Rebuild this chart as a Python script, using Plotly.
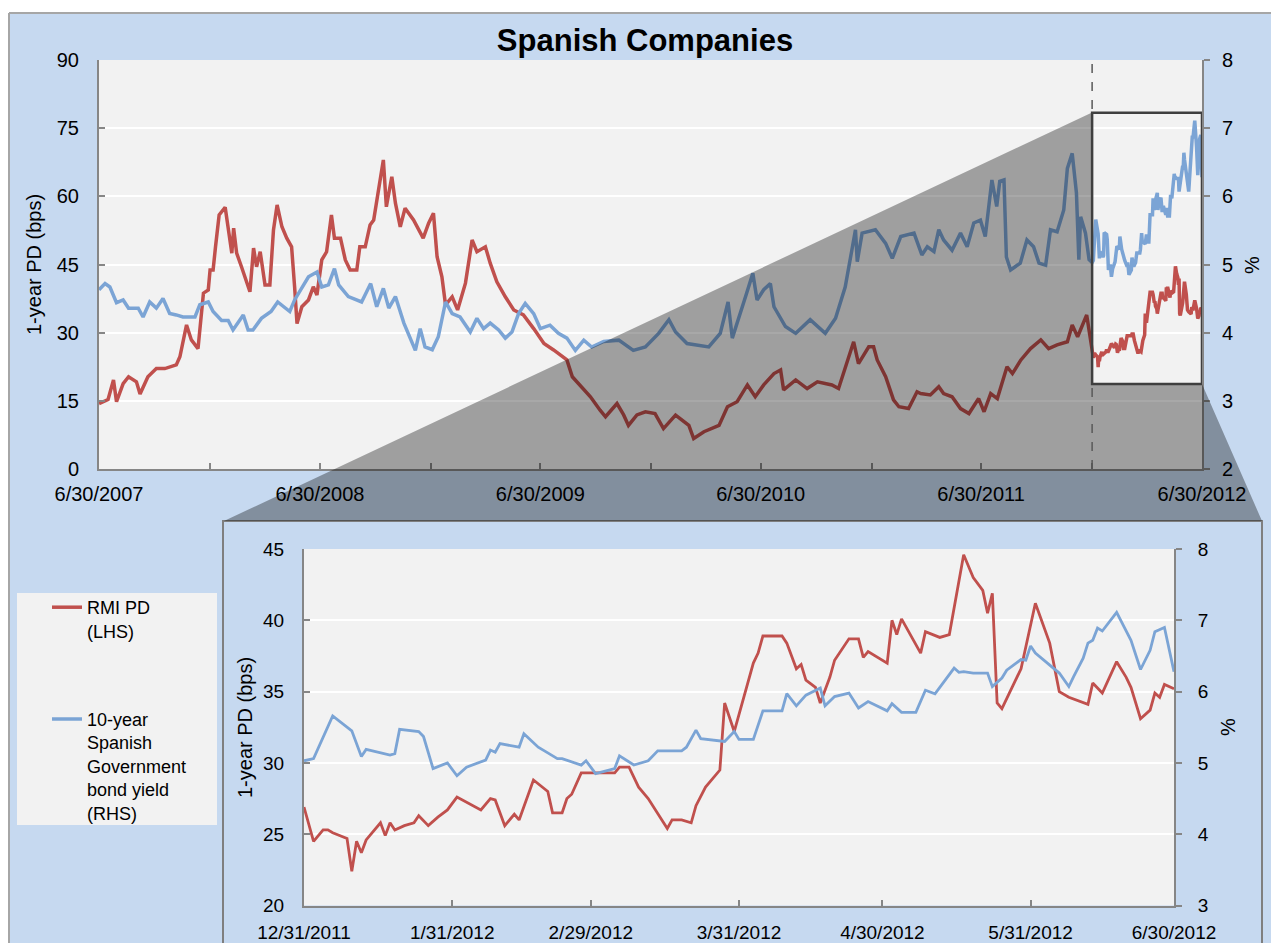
import plotly.graph_objects as go

W, H = 1271, 943
FONT = "Liberation Sans, Arial, sans-serif"
RED = "#C0504D"
BLUE = "#7BA4D5"
AXIS = "#868686"
PAPER = "#C6D9F0"
PLOT = "#F2F2F2"

# ---------------- data: full period (6/30/2007 - 12/2011) ----------------
pd_dates_main = [
    "2007-06-30", "2007-07-15", "2007-07-24", "2007-07-29", "2007-08-09", "2007-08-18", "2007-08-31",
    "2007-09-06", "2007-09-19", "2007-10-03", "2007-10-17", "2007-11-05", "2007-11-11", "2007-11-22",
    "2007-11-30", "2007-12-11", "2007-12-20", "2007-12-28", "2007-12-31",
    "2008-01-05", "2008-01-09", "2008-01-15", "2008-01-25", "2008-01-30", "2008-02-05", "2008-02-08",
    "2008-02-13", "2008-02-21", "2008-03-06", "2008-03-12", "2008-03-17", "2008-03-23", "2008-03-31",
    "2008-04-08", "2008-04-14", "2008-04-20", "2008-04-28", "2008-05-06", "2008-05-14", "2008-05-19",
    "2008-05-23", "2008-05-31", "2008-06-11", "2008-06-19", "2008-06-25", "2008-07-03", "2008-07-11",
    "2008-07-19", "2008-07-24", "2008-08-03", "2008-08-11", "2008-08-19", "2008-08-30", "2008-09-04",
    "2008-09-13", "2008-09-21", "2008-09-27", "2008-10-13", "2008-10-18", "2008-10-27", "2008-11-02",
    "2008-11-10", "2008-11-18", "2008-12-02", "2008-12-18", "2008-12-27",
    "2009-01-04", "2009-01-10", "2009-01-18", "2009-01-24", "2009-02-04", "2009-02-13", "2009-02-26",
    "2009-03-09", "2009-03-17", "2009-03-31", "2009-04-08", "2009-04-19", "2009-05-03", "2009-05-17",
    "2009-06-02", "2009-06-19", "2009-07-06", "2009-07-22", "2009-08-13", "2009-08-22", "2009-09-07",
    "2009-09-21", "2009-10-07", "2009-10-16", "2009-11-04", "2009-11-15", "2009-11-23", "2009-12-07",
    "2009-12-21",
    "2010-01-06", "2010-01-20", "2010-02-09", "2010-03-03", "2010-03-11", "2010-03-28", "2010-04-22",
    "2010-05-06", "2010-05-22", "2010-06-08", "2010-06-21", "2010-07-05", "2010-07-22", "2010-08-02",
    "2010-08-07", "2010-08-27", "2010-09-15", "2010-10-02", "2010-10-26", "2010-11-06", "2010-11-17",
    "2010-12-01", "2010-12-09", "2010-12-20", "2010-12-26",
    "2011-01-03", "2011-01-09", "2011-01-23", "2011-02-05", "2011-02-14", "2011-03-02", "2011-03-16",
    "2011-03-22", "2011-04-07", "2011-04-21", "2011-04-29", "2011-05-13", "2011-05-27", "2011-06-10",
    "2011-06-26", "2011-07-05", "2011-07-16", "2011-07-27", "2011-08-12", "2011-08-21", "2011-09-04",
    "2011-09-20", "2011-10-07", "2011-10-20", "2011-11-03", "2011-11-20", "2011-11-28", "2011-12-07",
    "2011-12-22",
]
pd_main = [
    14.4, 15.3, 19.6, 14.8, 18.8, 20.3, 19.2, 16.5, 20.3, 22.1, 22.1, 22.9, 24.7, 31.7, 28.4, 26.5, 38.7,
    39.4, 43.8,
    43.8, 48.9, 55.9, 57.6, 53.0, 47.5, 53.0, 47.5, 44.5, 39.0, 48.6, 44.5, 47.8, 40.5, 40.5, 52.6, 58.1,
    53.3, 50.8, 48.9, 40.1, 32.0, 35.7, 37.2, 40.1, 38.3, 46.0, 47.8, 55.9, 50.8, 50.8, 46.0, 43.8, 43.8,
    48.9, 48.9, 53.7, 54.8, 68.0, 57.7, 64.3, 58.5, 53.3, 57.4, 54.8, 50.8, 54.1,
    56.3, 46.7, 42.3, 36.1, 37.9, 35.0, 40.9, 50.4, 47.8, 48.9, 45.3, 41.2, 37.9, 35.0, 33.9, 30.9, 27.6,
    26.2, 24.0, 20.3, 18.1, 15.9, 12.95, 11.5, 14.4, 11.9, 9.6, 11.9, 12.6,
    12.2, 8.9, 11.85, 9.6, 6.7, 8.2, 9.6, 13.7, 14.8, 18.5, 15.9, 18.5, 21.0, 21.8, 17.4, 19.6, 17.7,
    19.2, 18.5, 17.7, 22.1, 28.0, 23.2, 25.4, 26.9,
    26.9, 24.0, 20.3, 15.2, 13.7, 13.3, 17.0, 16.6, 16.3, 18.1, 16.6, 15.9, 13.3, 12.2, 15.5, 12.6, 16.6,
    15.5, 22.5, 21.0, 24.0, 26.5, 28.4, 26.5, 27.3, 28.0, 31.7, 29.1, 33.9,
]

yld_dates_main = [
    "2007-06-30", "2007-07-10", "2007-07-18", "2007-07-29", "2007-08-09", "2007-08-18", "2007-09-03",
    "2007-09-11", "2007-09-22", "2007-10-03", "2007-10-14", "2007-10-25", "2007-11-05", "2007-11-16",
    "2007-12-06", "2007-12-14", "2007-12-28",
    "2008-01-05", "2008-01-19", "2008-01-30", "2008-02-07", "2008-02-24", "2008-03-03", "2008-03-11",
    "2008-03-25", "2008-04-10", "2008-04-21", "2008-05-11", "2008-05-19", "2008-06-11", "2008-06-25",
    "2008-07-03", "2008-07-14", "2008-07-24", "2008-07-31", "2008-08-16", "2008-09-07", "2008-09-22",
    "2008-10-02", "2008-10-13", "2008-10-22", "2008-11-02", "2008-11-16", "2008-11-27", "2008-12-05",
    "2008-12-13", "2008-12-21",
    "2009-01-02", "2009-01-12", "2009-01-24", "2009-02-04", "2009-02-17", "2009-03-06", "2009-03-17",
    "2009-03-28", "2009-04-08", "2009-04-22", "2009-05-03", "2009-05-14", "2009-05-25", "2009-06-05",
    "2009-06-19", "2009-06-30", "2009-07-16", "2009-07-30", "2009-08-13", "2009-08-27", "2009-09-10",
    "2009-09-23", "2009-10-13", "2009-11-07", "2009-12-01", "2009-12-21",
    "2010-01-12", "2010-01-29", "2010-02-09", "2010-02-28", "2010-04-05", "2010-04-24", "2010-05-07",
    "2010-05-14", "2010-06-05", "2010-06-17", "2010-06-24", "2010-07-05", "2010-07-16", "2010-07-22",
    "2010-08-10", "2010-08-27", "2010-09-20", "2010-10-15", "2010-11-01", "2010-11-17", "2010-11-28",
    "2010-12-04", "2010-12-07", "2010-12-15",
    "2011-01-06", "2011-01-23", "2011-02-03", "2011-02-17", "2011-03-11", "2011-03-24", "2011-04-02",
    "2011-04-13", "2011-04-21", "2011-04-29", "2011-05-13", "2011-05-27", "2011-06-07", "2011-06-18",
    "2011-06-29", "2011-07-07", "2011-07-18", "2011-07-26", "2011-07-31", "2011-08-07", "2011-08-11",
    "2011-08-18", "2011-09-03", "2011-09-14", "2011-09-25", "2011-10-04", "2011-10-15", "2011-10-23",
    "2011-11-03", "2011-11-14", "2011-11-20", "2011-11-28", "2011-12-05", "2011-12-09", "2011-12-12",
    "2011-12-20", "2011-12-26",
]
yld_main = [
    4.63, 4.72, 4.67, 4.44, 4.48, 4.36, 4.36, 4.23, 4.45, 4.36, 4.50, 4.28, 4.26, 4.23, 4.23, 4.41, 4.45,
    4.31, 4.18, 4.18, 4.04, 4.26, 4.04, 4.04, 4.21, 4.31, 4.45, 4.31, 4.48, 4.82, 4.89, 4.67, 4.70, 4.94,
    4.70, 4.53, 4.45, 4.72, 4.38, 4.65, 4.36, 4.53, 4.14, 3.92, 3.74, 4.06, 3.79,
    3.75, 3.94, 4.45, 4.28, 4.23, 4.01, 4.21, 4.06, 4.14, 4.04, 3.92, 4.01, 4.28, 4.43, 4.28, 4.06, 4.11,
    3.99, 3.92, 3.74, 3.89, 3.79, 3.87, 3.89, 3.74, 3.79,
    3.99, 4.19, 4.01, 3.84, 3.79, 3.99, 4.45, 3.92, 4.53, 4.87, 4.48, 4.63, 4.72, 4.38, 4.09, 3.99, 4.19,
    3.99, 4.21, 4.67, 5.21, 5.51, 5.04, 5.46,
    5.51, 5.31, 5.09, 5.41, 5.46, 5.14, 5.26, 5.19, 5.51, 5.36, 5.21, 5.46, 5.26, 5.61, 5.65, 5.41, 6.24,
    5.85, 6.22, 6.24, 5.11, 4.92, 5.02, 5.36, 5.26, 5.02, 4.99, 5.51, 5.48, 5.80, 6.41, 6.63, 6.05, 5.07,
    5.70, 5.46, 5.07,
]

# ---------------- data: zoomed period (12/31/2011 - 6/30/2012) ----------------
pd_dates_zoom = [
    "2011-12-31", "2012-01-02", "2012-01-04", "2012-01-05", "2012-01-06", "2012-01-09", "2012-01-10",
    "2012-01-11", "2012-01-12", "2012-01-13", "2012-01-16", "2012-01-17", "2012-01-18", "2012-01-19",
    "2012-01-21", "2012-01-23", "2012-01-24", "2012-01-26", "2012-01-28", "2012-01-30",
    "2012-02-01", "2012-02-06", "2012-02-08", "2012-02-09", "2012-02-11", "2012-02-13", "2012-02-14",
    "2012-02-17", "2012-02-20", "2012-02-21", "2012-02-23", "2012-02-24", "2012-02-25", "2012-02-27",
    "2012-02-29",
    "2012-03-05", "2012-03-06", "2012-03-08", "2012-03-10", "2012-03-12", "2012-03-16", "2012-03-17",
    "2012-03-19", "2012-03-21", "2012-03-22", "2012-03-24", "2012-03-27", "2012-03-28", "2012-03-30",
    "2012-04-03", "2012-04-04", "2012-04-05", "2012-04-09", "2012-04-10", "2012-04-12", "2012-04-13",
    "2012-04-14", "2012-04-16", "2012-04-17", "2012-04-19", "2012-04-20", "2012-04-23", "2012-04-25",
    "2012-04-26", "2012-04-27",
    "2012-05-01", "2012-05-02", "2012-05-03", "2012-05-04", "2012-05-08", "2012-05-09", "2012-05-12",
    "2012-05-14", "2012-05-17", "2012-05-19", "2012-05-21", "2012-05-22", "2012-05-23", "2012-05-24",
    "2012-05-25", "2012-05-29",
    "2012-06-01", "2012-06-04", "2012-06-06", "2012-06-08", "2012-06-12", "2012-06-13", "2012-06-15",
    "2012-06-18", "2012-06-20", "2012-06-21", "2012-06-23", "2012-06-25", "2012-06-26", "2012-06-27",
    "2012-06-28", "2012-06-30",
]
pd_zoom = [
    26.9, 24.5, 25.3, 25.3, 25.1, 24.7, 22.4, 24.5, 23.7, 24.6, 25.8, 24.9, 25.8, 25.3, 25.6, 25.8, 26.3,
    25.6, 26.2, 26.7,
    27.6, 26.7, 27.5, 27.4, 25.6, 26.4, 26.0, 28.8, 28.0, 26.5, 26.5, 27.5, 27.8, 29.3, 29.3,
    29.3, 29.7, 29.7, 28.3, 27.5, 25.4, 26.0, 26.0, 25.8, 27.0, 28.3, 29.5, 34.2, 32.2,
    37.0, 37.7, 38.9, 38.9, 38.4, 36.6, 36.9, 35.8, 35.3, 34.2, 36.0, 37.2, 38.7, 38.7, 37.4, 37.8,
    37.0, 40.0, 39.0, 40.1, 37.7, 39.2, 38.8, 39.0, 44.6, 43.0, 42.1, 40.5, 41.9, 34.2, 33.8, 36.6,
    41.2, 38.4, 35.0, 34.6, 34.1, 35.6, 34.9, 37.1, 36.0, 35.3, 33.1, 33.7, 34.9, 34.6, 35.5, 35.2,
]

yld_dates_zoom = [
    "2011-12-31", "2012-01-02", "2012-01-06", "2012-01-10", "2012-01-12", "2012-01-13", "2012-01-18",
    "2012-01-19", "2012-01-20", "2012-01-24", "2012-01-25", "2012-01-27", "2012-01-30",
    "2012-02-01", "2012-02-03", "2012-02-07", "2012-02-08", "2012-02-09", "2012-02-10", "2012-02-14",
    "2012-02-15", "2012-02-18", "2012-02-20", "2012-02-22", "2012-02-23", "2012-02-27", "2012-02-28",
    "2012-03-01", "2012-03-05", "2012-03-06", "2012-03-09", "2012-03-12", "2012-03-14", "2012-03-19",
    "2012-03-20", "2012-03-22", "2012-03-23", "2012-03-28", "2012-03-30", "2012-03-31",
    "2012-04-03", "2012-04-05", "2012-04-09", "2012-04-10", "2012-04-12", "2012-04-14", "2012-04-17",
    "2012-04-18", "2012-04-20", "2012-04-23", "2012-04-25", "2012-04-27",
    "2012-05-01", "2012-05-02", "2012-05-04", "2012-05-07", "2012-05-09", "2012-05-11", "2012-05-15",
    "2012-05-16", "2012-05-17", "2012-05-19", "2012-05-22", "2012-05-23", "2012-05-25", "2012-05-26",
    "2012-05-29", "2012-05-30", "2012-05-31",
    "2012-06-01", "2012-06-06", "2012-06-08", "2012-06-09", "2012-06-11", "2012-06-12", "2012-06-13",
    "2012-06-14", "2012-06-15", "2012-06-18", "2012-06-21", "2012-06-23", "2012-06-25", "2012-06-26",
    "2012-06-28", "2012-06-30",
]
yld_zoom = [
    5.03, 5.06, 5.66, 5.45, 5.09, 5.19, 5.11, 5.13, 5.47, 5.44, 5.37, 4.92, 5.00,
    4.82, 4.94, 5.04, 5.18, 5.15, 5.27, 5.22, 5.41, 5.22, 5.14, 5.06, 5.06, 4.97, 5.03,
    4.85, 4.92, 5.10, 4.97, 5.03, 5.17, 5.17, 5.22, 5.46, 5.34, 5.30, 5.44, 5.33,
    5.33, 5.73, 5.73, 5.97, 5.80, 5.95, 6.05, 5.80, 5.93, 5.98, 5.77, 5.86,
    5.73, 5.83, 5.71, 5.71, 6.02, 5.97, 6.33, 6.27, 6.28, 6.26, 6.26, 6.07, 6.19, 6.30, 6.45, 6.44, 6.64,
    6.54, 6.26, 6.07, 6.21, 6.47, 6.68, 6.72, 6.89, 6.85, 7.11, 6.72, 6.31, 6.58, 6.84, 6.90, 6.28,
]

main_tickvals = ["2007-06-30", "2007-12-31", "2008-06-30", "2008-12-31", "2009-06-30", "2009-12-31",
                 "2010-06-30", "2010-12-31", "2011-06-30", "2011-12-31", "2012-06-30"]
main_ticktext = ["6/30/2007", "", "6/30/2008", "", "6/30/2009", "", "6/30/2010", "", "6/30/2011", "",
                 "6/30/2012"]
zoom_tickvals = ["2011-12-31", "2012-01-31", "2012-02-29", "2012-03-31", "2012-04-30", "2012-05-31",
                 "2012-06-30"]
zoom_ticktext = ["12/31/2011", "1/31/2012", "2/29/2012", "3/31/2012", "4/30/2012", "5/31/2012",
                 "6/30/2012"]

zoom_start, zoom_end = "2011-12-31", "2012-06-30"
box_low, box_high = 18.7, 78.4   # extent of the highlighted window on the LHS scale


def px(x):
    return x / W


def py(y):
    return 1 - y / H


fig = go.Figure()
fig.add_trace(go.Scatter(x=pd_dates_main + pd_dates_zoom, y=pd_main + pd_zoom, mode="lines",
                         name="RMI PD<br>(LHS)", legendgroup="pd",
                         line=dict(color=RED, width=3.5), xaxis="x", yaxis="y"))
fig.add_trace(go.Scatter(x=yld_dates_main + yld_dates_zoom, y=yld_main + yld_zoom, mode="lines",
                         name="10-year<br>Spanish<br>Government<br>bond yield<br>(RHS)", legendgroup="yld",
                         line=dict(color=BLUE, width=3.5), xaxis="x", yaxis="y2"))
fig.add_trace(go.Scatter(x=pd_dates_zoom, y=pd_zoom, mode="lines", showlegend=False,
                         line=dict(color=RED, width=2.8), xaxis="x2", yaxis="y3"))
fig.add_trace(go.Scatter(x=yld_dates_zoom, y=yld_zoom, mode="lines", showlegend=False,
                         line=dict(color=BLUE, width=2.8), xaxis="x2", yaxis="y4"))

common = dict(showline=True, linecolor=AXIS, linewidth=2, tickcolor=AXIS, tickwidth=1.5, ticklen=6,
              zeroline=False, fixedrange=True, automargin=False)
f20 = dict(family=FONT, size=20, color="black")
f19 = dict(family=FONT, size=19, color="black")

main_x = [px(99), px(1202)]
main_y = [py(469), py(60)]
ins_x = [px(304), px(1174)]
ins_y = [py(905.5), py(549)]

fig.update_layout(
    template="none",
    width=W, height=H, autosize=False,
    margin=dict(l=0, r=0, t=0, b=0, pad=0),
    paper_bgcolor=PAPER, plot_bgcolor=PLOT,
    font=dict(family=FONT, color="black"),
    title=dict(text="<b>Spanish Companies</b>", x=px(645), xanchor="center", y=py(40), yanchor="middle",
               font=dict(family=FONT, size=31, color="black")),
    xaxis=dict(domain=main_x, anchor="y", type="date", range=[main_tickvals[0], main_tickvals[-1]],
               tickmode="array", tickvals=main_tickvals, ticktext=main_ticktext, ticks="inside",
               showgrid=False, tickfont=f20, ticklabelstandoff=6, **common),
    yaxis=dict(domain=main_y, anchor="x", range=[0, 90], tick0=0, dtick=15, ticks="inside",
               showgrid=True, gridcolor="white", gridwidth=2, tickfont=f20, ticklabelstandoff=14, **common),
    yaxis2=dict(overlaying="y", anchor="x", side="right", range=[2, 8], tick0=2, dtick=1, ticks="outside",
                showgrid=False, tickfont=f20, ticklabelstandoff=8, **common),
    xaxis2=dict(domain=ins_x, anchor="y3", type="date", range=[zoom_start, zoom_end],
                tickmode="array", tickvals=zoom_tickvals, ticktext=zoom_ticktext, ticks="inside",
                showgrid=False, tickfont=f19, ticklabelstandoff=9, **common),
    yaxis3=dict(domain=ins_y, anchor="x2", range=[20, 45], tick0=20, dtick=5, ticks="inside",
                showgrid=True, gridcolor="white", gridwidth=2, tickfont=f19, ticklabelstandoff=14, **common),
    yaxis4=dict(overlaying="y3", anchor="x2", side="right", range=[3, 8], tick0=3, dtick=1, ticks="outside",
                showgrid=False, tickfont=f19, ticklabelstandoff=12, **common),
    legend=dict(x=px(47), y=py(589), xanchor="left", yanchor="top", bgcolor="rgba(0,0,0,0)",
                font=dict(family=FONT, size=18, color="black"), traceorder="grouped",
                tracegroupgap=62, valign="top", itemwidth=30, borderwidth=0),
    showlegend=True,
)

overlay_pts = [(1091, 113), (224, 521), (1262, 521), (1202, 384), (1091, 384)]
overlay_path = "M " + " L ".join(f"{px(x):.5f},{py(y):.5f}" for x, y in overlay_pts) + " Z"

shapes = [
    # white page strips and chart frame
    dict(type="rect", xref="paper", yref="paper", x0=0, x1=px(9), y0=0, y1=1,
         fillcolor="white", line=dict(width=0), layer="below"),
    dict(type="rect", xref="paper", yref="paper", x0=0, x1=1, y0=py(13), y1=1,
         fillcolor="white", line=dict(width=0), layer="below"),
    dict(type="line", xref="paper", yref="paper", x0=px(9), x1=1, y0=py(13), y1=py(13),
         line=dict(color="#A6A6A6", width=2), layer="below"),
    dict(type="line", xref="paper", yref="paper", x0=px(9), x1=px(9), y0=0, y1=py(13),
         line=dict(color="#A6A6A6", width=2), layer="below"),
    # legend background
    dict(type="rect", xref="paper", yref="paper", x0=px(17), x1=px(217), y0=py(825), y1=py(593),
         fillcolor=PLOT, line=dict(width=0), layer="below"),
    # inset frame
    dict(type="rect", xref="paper", yref="paper", x0=px(223), x1=px(1262), y0=py(H + 10), y1=py(521),
         fillcolor="rgba(0,0,0,0)", line=dict(color="#7F7F7F", width=2), layer="above"),
    # zoom "projection" overlay
    dict(type="path", xref="paper", yref="paper", path=overlay_path,
         fillcolor="rgba(0,0,0,0.34)", line=dict(width=0), layer="above"),
    # dashed marker at start of zoom window
    dict(type="line", xref="x", yref="paper", x0=zoom_start, x1=zoom_start, y0=py(469), y1=py(58),
         line=dict(color="#595959", width=1.5, dash="dash"), layer="above"),
    # highlighted window
    dict(type="rect", xref="x", yref="y", x0=zoom_start, x1=zoom_end, y0=box_low, y1=box_high,
         fillcolor="rgba(0,0,0,0)", line=dict(color="#3F3F3F", width=2.5), layer="above"),
]
fig.update_layout(shapes=shapes)

ann = [
    dict(text="1-year PD (bps)", x=px(34), y=py(265), textangle=-90, font=f20),
    dict(text="%", x=px(1252), y=py(265), textangle=-90, font=f20),
    dict(text="1-year PD (bps)", x=px(245), y=py(727), textangle=-90, font=f20),
    dict(text="%", x=px(1228), y=py(727), textangle=-90, font=f20),
]
for a in ann:
    a.update(xref="paper", yref="paper", showarrow=False, xanchor="center", yanchor="middle")
fig.update_layout(annotations=ann)

fig.write_html("out.html", config={"displayModeBar": False},
               post_script="document.body.style.margin='0px';")
